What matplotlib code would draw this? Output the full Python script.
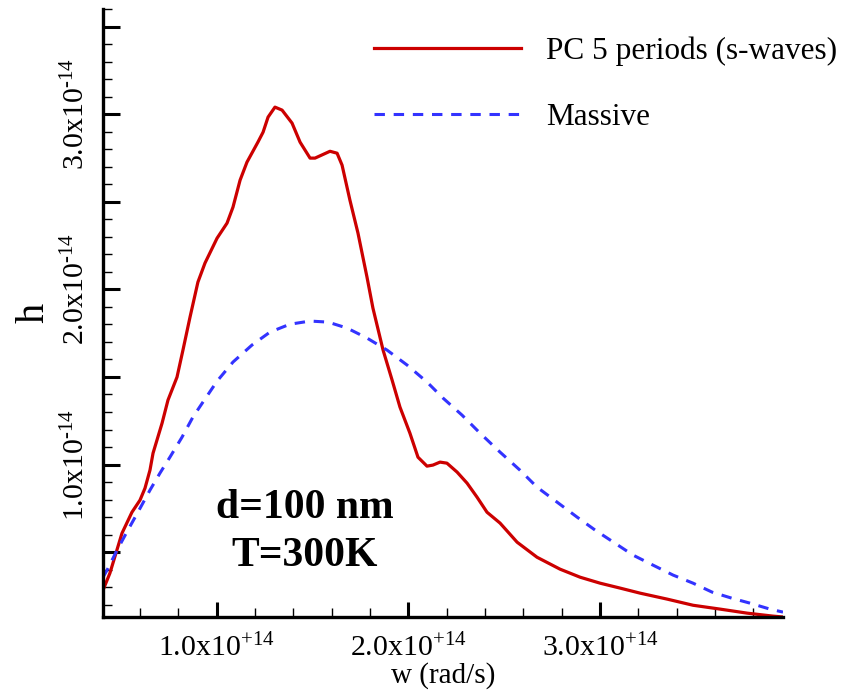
import matplotlib
matplotlib.use("Agg")
import matplotlib.pyplot as plt
from matplotlib.ticker import FixedLocator, MultipleLocator, FuncFormatter

plt.rcParams['font.family'] = ['Liberation Serif', 'DejaVu Serif']
plt.rcParams['mathtext.fontset'] = 'custom'
plt.rcParams['mathtext.rm'] = 'Liberation Serif'
plt.rcParams['mathtext.it'] = 'Liberation Serif:italic'
plt.rcParams['mathtext.bf'] = 'Liberation Serif:bold'
plt.rcParams['lines.scale_dashes'] = False

# angular frequency (units of 1e14 rad/s) and heat flux spectrum h (units of 1e-14)
w_pc = [0.407, 0.443, 0.506, 0.558, 0.600, 0.626, 0.652, 0.668, 0.715, 0.746,
        0.793, 0.824, 0.861, 0.902, 0.939, 1.002, 1.054, 1.085, 1.122, 1.158,
        1.215, 1.242, 1.268, 1.304, 1.341, 1.393, 1.435, 1.487, 1.513, 1.591,
        1.628, 1.654, 1.695, 1.737, 1.784, 1.815, 1.868, 1.915, 1.956, 2.008,
        2.050, 2.097, 2.128, 2.165, 2.201, 2.254, 2.306, 2.358, 2.410, 2.478,
        2.567, 2.671, 2.791, 2.896, 3.000, 3.104, 3.209, 3.350, 3.485, 3.626,
        3.767, 3.902, 3.954]
h_pc = [0.283, 0.380, 0.608, 0.728, 0.797, 0.865, 0.968, 1.065, 1.236, 1.368,
        1.499, 1.653, 1.842, 2.041, 2.150, 2.292, 2.378, 2.469, 2.623, 2.726,
        2.840, 2.897, 2.983, 3.040, 3.023, 2.949, 2.840, 2.749, 2.749, 2.788,
        2.777, 2.709, 2.509, 2.321, 2.070, 1.893, 1.653, 1.482, 1.328, 1.179,
        1.042, 0.991, 0.997, 1.014, 1.008, 0.957, 0.894, 0.814, 0.728, 0.666,
        0.557, 0.471, 0.403, 0.357, 0.323, 0.295, 0.266, 0.232, 0.197, 0.175,
        0.152, 0.135, 0.130]

w_massive = [0.407, 0.428, 0.480, 0.537, 0.589, 0.652, 0.704, 0.756, 0.819, 0.876,
             0.928, 1.002, 1.085, 1.184, 1.278, 1.382, 1.487, 1.581, 1.680, 1.784,
             1.889, 1.993, 2.097, 2.181, 2.280, 2.374, 2.478, 2.582, 2.671, 2.775,
             2.880, 2.974, 3.078, 3.172, 3.276, 3.381, 3.485, 3.584, 3.688, 3.782,
             3.886, 3.954]
h_massive = [0.357, 0.397, 0.511, 0.626, 0.728, 0.854, 0.951, 1.042, 1.156, 1.271,
             1.356, 1.476, 1.585, 1.682, 1.756, 1.801, 1.819, 1.813, 1.779, 1.722,
             1.653, 1.568, 1.471, 1.379, 1.282, 1.179, 1.071, 0.968, 0.871, 0.786,
             0.700, 0.626, 0.551, 0.483, 0.426, 0.369, 0.323, 0.272, 0.237, 0.209,
             0.175, 0.158]

series_labels = ['PC 5 periods (s-waves)', 'Massive']
x_major = [1.0, 2.0, 3.0]
y_major = [0.5, 1.0, 1.5, 2.0, 2.5, 3.0, 3.5]
y_labeled = [1.0, 2.0, 3.0]

fig = plt.figure(figsize=(8.59, 6.92), dpi=100)
ax = fig.add_axes([103 / 859, 75 / 692, 680 / 859, 608 / 692])

ax.plot(w_pc, h_pc, color='#cc0000', lw=2.3, label=series_labels[0],
        solid_joinstyle='round')
ax.plot(w_massive, h_massive, color='#3333ff', lw=2.2, dashes=(7.5, 6.3),
        dash_capstyle='butt', label=series_labels[1])

ax.set_xlim(0.407, 3.954)
ax.set_ylim(0.13, 3.6)

for side in ('top', 'right'):
    ax.spines[side].set_visible(False)
for side in ('left', 'bottom'):
    ax.spines[side].set_linewidth(2.4)
    ax.spines[side].set_capstyle('projecting')

ax.xaxis.set_major_locator(FixedLocator(x_major))
ax.xaxis.set_minor_locator(MultipleLocator(0.2))
ax.yaxis.set_major_locator(FixedLocator(y_major))
ax.yaxis.set_minor_locator(MultipleLocator(0.1))

ax.xaxis.set_major_formatter(FuncFormatter(lambda v, p: f'{v:.1f}x10$^{{+14}}$'))
ax.yaxis.set_major_formatter(FuncFormatter(
    lambda v, p: f'{v:.1f}x10$^{{\\text{{-}}14}}$'
    if any(abs(v - t) < 1e-6 for t in y_labeled) else ''))

ax.tick_params(axis='both', which='major', direction='in', width=2.2, labelsize=21.5)
ax.tick_params(axis='y', which='major', length=12, pad=9)
ax.tick_params(axis='x', which='major', length=11, pad=12)
ax.tick_params(axis='both', which='minor', direction='in', width=1.0, length=6.5)
for lab in ax.get_yticklabels():
    lab.set_rotation(90)
    lab.set_va('center')

ax.set_xlabel('w (rad/s)', fontsize=21, labelpad=0)
ax.set_ylabel('h', fontsize=29)
ax.yaxis.set_label_coords(-0.074, 0.5)

ax.text(0.297, 0.18, 'd=100 nm', transform=ax.transAxes, fontsize=30,
        fontweight='bold', ha='center', va='center')
ax.text(0.297, 0.10, 'T=300K', transform=ax.transAxes, fontsize=30,
        fontweight='bold', ha='center', va='center')

ax.legend(loc='upper left', bbox_to_anchor=(0.399, 0.955), frameon=False,
          fontsize=22.5, handlelength=4.7, handletextpad=0.8, labelspacing=1.2,
          borderpad=0, borderaxespad=0)

fig.savefig('out.png', dpi=100)
